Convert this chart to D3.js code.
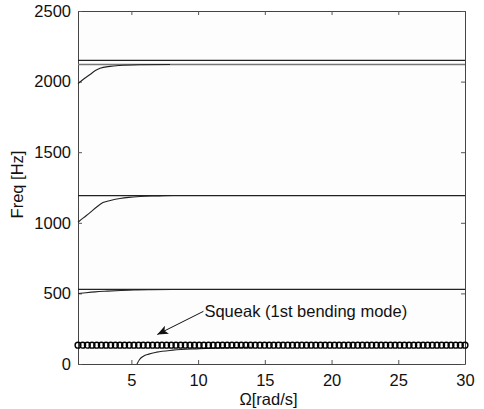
<!DOCTYPE html>
<html>
<head>
<meta charset="utf-8">
<script src="https://cdn.jsdelivr.net/npm/d3@7"></script>
<style>
  body { margin: 0; background: #fff; }
  text { font-family: "Liberation Sans", Arial, sans-serif; fill: #111; }
</style>
</head>
<body>
<svg id="chart" width="484" height="409"></svg>
<script>
// --- data ---
var xTicks = [5, 10, 15, 20, 25, 30];
var yTicks = [0, 500, 1000, 1500, 2000, 2500];

// flat modes (Hz)
var flatModes = [528, 1193, 2121, 2150];
var flatColors = ["#222", "#222", "#777", "#222"];

// rising branches (omega in rad/s, freq in Hz)
var mode1Omega = [1, 1.6, 2.3, 3.2, 4.2, 5.2, 6.5, 8.1];
var mode1Freq  = [499, 505, 511, 516, 521, 525, 527, 528];
var mode2Omega = [1, 1.4, 1.9, 2.4, 2.87, 3.5, 4.15, 4.8, 5.65, 6.8, 8.1, 10.5];
var mode2Freq  = [1004, 1035, 1072, 1112, 1143, 1160, 1172, 1180, 1186, 1190, 1193, 1193];
var mode3Omega = [1, 1.45, 1.9, 2.3, 2.65, 3.4, 4.1, 5.6, 7.9];
var mode3Freq  = [1985, 2020, 2050, 2078, 2095, 2108, 2114, 2119, 2121];
var lowOmega   = [5.42, 5.6, 5.9, 6.3, 6.9, 8.1, 10.1, 12, 14];
var lowFreq    = [0, 30, 55, 70, 84, 98, 108, 115, 119];

// squeak (1st bending mode) markers
var squeakFreq = 133;
var squeakOmega = [1.00, 1.35, 1.70, 2.05, 2.40, 2.75, 3.10, 3.45, 3.80, 4.14,
  4.49, 4.84, 5.19, 5.54, 5.89, 6.24, 6.59, 6.94, 7.29, 7.64, 7.99, 8.34, 8.69,
  9.04, 9.39, 9.73, 10.08, 10.43, 10.78, 11.13, 11.48, 11.83, 12.18, 12.53,
  12.88, 13.23, 13.58, 13.93, 14.28, 14.63, 14.98, 15.33, 15.67, 16.02, 16.37,
  16.72, 17.07, 17.42, 17.77, 18.12, 18.47, 18.82, 19.17, 19.52, 19.87, 20.22,
  20.57, 20.92, 21.27, 21.61, 21.96, 22.31, 22.66, 23.01, 23.36, 23.71, 24.06,
  24.41, 24.76, 25.11, 25.46, 25.81, 26.16, 26.51, 26.86, 27.20, 27.55, 27.90,
  28.25, 28.60, 28.95, 29.30, 29.65, 30.00];

// annotation
var noteText = "Squeak (1st bending mode)";
var noteTail = [10.4, 373];
var noteTip = [6.94, 209];

// --- layout ---
var margin = {top: 11, right: 19, bottom: 45, left: 78},
    width = 484 - margin.left - margin.right,
    height = 409 - margin.top - margin.bottom;

var svg = d3.select("#chart");
var g = svg.append("g")
    .attr("transform", "translate(" + margin.left + "," + margin.top + ")");

var x = d3.scaleLinear().domain([1, 30]).range([0, width]);
var y = d3.scaleLinear().domain([0, 2500]).range([height, 0]);

g.append("rect")
    .attr("width", width).attr("height", height)
    .attr("fill", "#fdfdfd");

var tickLen = 4;
var fmt = d3.format("d");
// axes (ticks inside, matlab style box)
g.append("g").attr("transform", "translate(0," + height + ")")
    .call(d3.axisBottom(x).tickValues(xTicks).tickFormat(fmt).tickSizeInner(-tickLen).tickSizeOuter(0).tickPadding(10));
g.append("g")
    .call(d3.axisTop(x).tickValues(xTicks).tickSizeInner(-tickLen).tickSizeOuter(0).tickFormat(""));
g.append("g")
    .call(d3.axisLeft(y).tickValues(yTicks).tickFormat(fmt).tickSizeInner(-tickLen).tickSizeOuter(0).tickPadding(7));
g.append("g").attr("transform", "translate(" + width + ",0)")
    .call(d3.axisRight(y).tickValues(yTicks).tickSizeInner(-tickLen).tickSizeOuter(0).tickFormat(""));

g.selectAll(".domain").attr("stroke", "#444");
g.selectAll(".tick line").attr("stroke", "#555");
g.selectAll(".tick text")
    .style("font-size", "16.5px")
    .style("font-family", "'Liberation Sans', Arial, sans-serif")
    .attr("fill", "#111");

// flat modes
g.selectAll(".flat").data(flatModes).enter().append("line")
    .attr("class", "flat")
    .attr("x1", 0).attr("x2", width)
    .attr("y1", function(d) { return y(d); })
    .attr("y2", function(d) { return y(d); })
    .attr("stroke", function(d, i) { return flatColors[i]; })
    .attr("stroke-width", 1.3);

// rising branches
var line = d3.line()
    .x(function(d) { return x(d[0]); })
    .y(function(d) { return y(d[1]); })
    .curve(d3.curveMonotoneX);

[[mode1Omega, mode1Freq], [mode2Omega, mode2Freq], [mode3Omega, mode3Freq], [lowOmega, lowFreq]]
  .forEach(function(s) {
    g.append("path")
      .datum(d3.zip(s[0], s[1]))
      .attr("d", line)
      .attr("fill", "none")
      .attr("stroke", "#222")
      .attr("stroke-width", 1.1);
  });

// squeak markers
g.selectAll(".sq").data(squeakOmega).enter().append("circle")
    .attr("class", "sq")
    .attr("cx", function(d) { return x(d); })
    .attr("cy", y(squeakFreq))
    .attr("r", 2.9)
    .attr("fill", "none")
    .attr("stroke", "#000")
    .attr("stroke-width", 1.4);

// annotation arrow
svg.append("defs").append("marker")
    .attr("id", "arrow")
    .attr("viewBox", "0 0 12 10")
    .attr("refX", 12).attr("refY", 5)
    .attr("markerWidth", 13).attr("markerHeight", 9)
    .attr("markerUnits", "userSpaceOnUse")
    .attr("orient", "auto")
    .append("path").attr("d", "M0,0 L12,5 L0,10 L3,5 z").attr("fill", "#111");

g.append("line")
    .attr("x1", x(noteTail[0])).attr("y1", y(noteTail[1]))
    .attr("x2", x(noteTip[0])).attr("y2", y(noteTip[1]))
    .attr("stroke", "#111").attr("stroke-width", 1)
    .attr("marker-end", "url(#arrow)");

g.append("text")
    .attr("x", x(noteTail[0]) + 1)
    .attr("y", y(noteTail[1]) + 6)
    .style("font-size", "16.5px")
    .text(noteText);

// axis labels
svg.append("text")
    .attr("x", margin.left + width / 2 - 3)
    .attr("y", 405)
    .attr("text-anchor", "middle")
    .style("font-size", "16.5px")
    .text("\u03A9[rad/s]");

svg.append("text")
    .attr("transform", "translate(23," + (margin.top + height / 2 - 3) + ") rotate(-90)")
    .attr("text-anchor", "middle")
    .style("font-size", "16.5px")
    .text("Freq [Hz]");
</script>
</body>
</html>
